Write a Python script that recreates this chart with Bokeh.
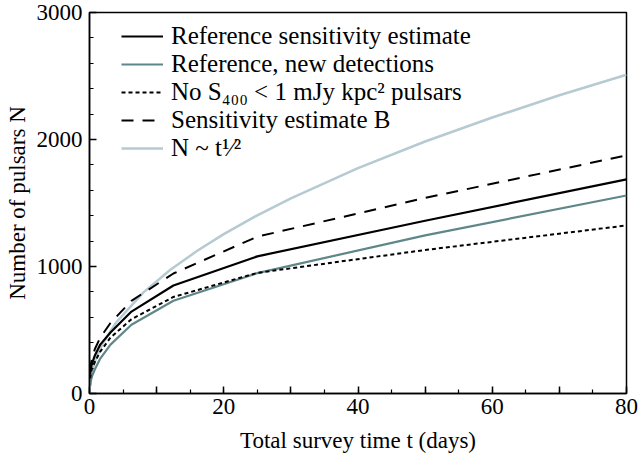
from bokeh.plotting import figure
from bokeh.embed import file_html
from bokeh.resources import INLINE
from bokeh.models import FixedTicker, Legend, LegendItem

# survey time (days) at which the simulated curves were read off
t_days = [0.1, 0.2, 0.4, 0.8, 1.6, 3.125, 6.25, 12.5, 25, 50, 80]
n_ref = [150, 200, 240, 300, 385, 480, 645, 850, 1080, 1360, 1686]
n_new = [60, 100, 140, 190, 275, 385, 541, 730, 948, 1245, 1559]
n_no_faint = [120, 160, 200, 250, 330, 440, 585, 760, 950, 1130, 1323]
n_est_b = [170, 230, 280, 350, 440, 555, 730, 945, 1235, 1540, 1875]

# N ~ t^(1/2) reference curve, read at more points since it is smooth
t_sqrt = [0, 0.1, 0.25, 0.5, 1, 2, 4, 8, 12, 16, 20, 25, 30, 40, 50, 60, 70, 80]
n_sqrt = [0, 89, 140, 198, 280, 397, 561, 794, 972, 1122, 1255, 1403, 1537,
          1775, 1984, 2173, 2348, 2510]

labels = [
    "Reference sensitivity estimate",
    "Reference, new detections",
    "No S\u2084\u2080\u2080 < 1 mJy kpc\u00b2 pulsars",
    "Sensitivity estimate B",
    "N ~ t\u00b9\u2044\u00b2",
]

FONT = "Liberation Serif"

p = figure(
    frame_width=537,
    frame_height=381,
    min_border_left=89,
    min_border_right=13,
    min_border_top=12,
    min_border_bottom=61,
    x_range=(0, 80),
    y_range=(0, 3000),
    toolbar_location=None,
    tools="",
    output_backend="svg",
)
p.grid.visible = False
p.outline_line_color = "black"
p.outline_line_width = 1.5
p.background_fill_color = "white"
p.border_fill_color = "white"

r_sqrt = p.line(t_sqrt, n_sqrt, line_color="#b5cad2", line_width=2.5)
r_new = p.line(t_days, n_new, line_color="#5f8688", line_width=2.2)
r_nof = p.line(t_days, n_no_faint, line_color="black", line_width=2, line_dash="4 3")
r_b = p.line(t_days, n_est_b, line_color="black", line_width=2, line_dash="12 9")
r_ref = p.line(t_days, n_ref, line_color="black", line_width=2.2)

p.xaxis.ticker = FixedTicker(ticks=list(range(0, 81, 10)),
                             minor_ticks=list(range(0, 81, 5)))
p.xaxis.major_label_overrides = {10: "", 30: "", 50: "", 70: ""}
p.yaxis.ticker = FixedTicker(ticks=[0, 1000, 2000, 3000],
                             minor_ticks=list(range(0, 3001, 200)))

p.xaxis.axis_label = "Total survey time t (days)"
p.yaxis.axis_label = "Number of pulsars N"
for ax in p.axis:
    ax.axis_line_width = 1.5
    ax.major_tick_in = 7
    ax.major_tick_out = 0
    ax.minor_tick_in = 4
    ax.minor_tick_out = 0
    ax.major_tick_line_width = 1.5
    ax.minor_tick_line_width = 1.2
    ax.major_label_text_font = FONT
    ax.major_label_text_font_size = "23px"
    ax.major_label_text_color = "black"
    ax.axis_label_text_font = FONT
    ax.axis_label_text_font_size = "23px"
    ax.axis_label_text_font_style = "normal"
    ax.axis_label_text_color = "black"
p.xaxis.major_label_standoff = 5
p.xaxis.axis_label_standoff = 11
p.yaxis.major_label_standoff = 7
p.yaxis.axis_label_standoff = 4

legend = Legend(
    items=[LegendItem(label=lab, renderers=[r]) for lab, r in
           zip(labels, [r_ref, r_new, r_nof, r_b, r_sqrt])],
    location=(32, 231),
    padding=0,
    margin=0,
    spacing=0,
    glyph_width=42,
    glyph_height=22,
    label_height=22,
    label_standoff=8,
    label_text_font=FONT,
    label_text_font_size="25px",
    label_text_color="black",
    border_line_alpha=0,
    background_fill_alpha=0,
)
p.add_layout(legend)

open("out.html", "w").write(file_html(p, INLINE))
